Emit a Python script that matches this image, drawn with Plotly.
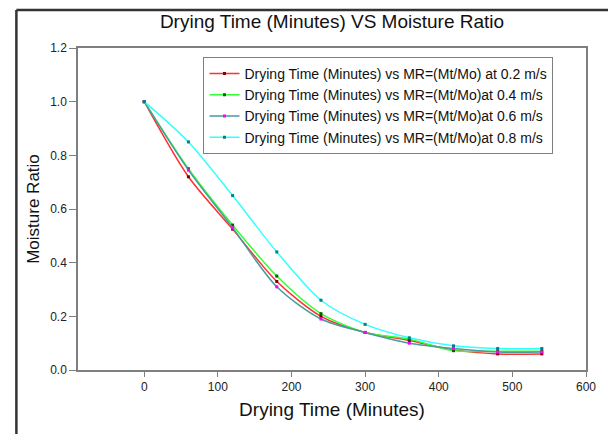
import plotly.graph_objects as go

time_min = [0, 60, 120, 180, 240, 300, 360, 420, 480, 540]
mr_02 = [1.0, 0.72, 0.525, 0.33, 0.20, 0.14, 0.11, 0.075, 0.06, 0.06]
mr_04 = [1.0, 0.75, 0.54, 0.35, 0.21, 0.14, 0.115, 0.072, 0.07, 0.07]
mr_06 = [1.0, 0.745, 0.53, 0.31, 0.19, 0.14, 0.10, 0.08, 0.067, 0.067]
mr_08 = [1.0, 0.85, 0.65, 0.44, 0.26, 0.17, 0.12, 0.09, 0.08, 0.08]

names = [
    "Drying Time (Minutes) vs MR=(Mt/Mo) at 0.2 m/s",
    "Drying Time (Minutes) vs MR=(Mt/Mo)at 0.4 m/s",
    "Drying Time (Minutes) vs MR=(Mt/Mo)at 0.6 m/s",
    "Drying Time (Minutes) vs MR=(Mt/Mo)at 0.8 m/s",
]
series = [mr_02, mr_04, mr_06, mr_08]
line_cols = ["#ff3030", "#33ff33", "#4a9a9e", "#33ffff"]
mark_cols = ["#800000", "#006400", "#ff00ff", "#008080"]

FONT = "Liberation Sans, Arial"

fig = go.Figure()
for name, ys, lc, mc in zip(names, series, line_cols, mark_cols):
    fig.add_trace(go.Scatter(
        x=time_min, y=ys, name=name, mode="lines+markers",
        line=dict(color=lc, width=1.5, shape="spline", smoothing=0.8),
        marker=dict(color=mc, size=3, symbol="square"),
    ))

axis_common = dict(
    showgrid=False, zeroline=False, showline=True, linecolor="#7f7f7f",
    linewidth=1.5, mirror=True, ticks="outside", tickcolor="#7f7f7f",
    tickfont=dict(family=FONT, size=12, color="#222222"),
)

fig.update_xaxes(range=[-90, 600], dtick=100, ticklen=5,
                 title=dict(text="Drying Time (Minutes)", standoff=10,
                            font=dict(family=FONT, size=19, color="#111111")),
                 **axis_common)
fig.update_yaxes(range=[0, 1.2], dtick=0.2, tickformat=".1f", ticklen=7,
                 title=dict(text="Moisture Ratio", standoff=6,
                            font=dict(family=FONT, size=17, color="#111111")),
                 **axis_common)

# outer frame (left and top dark lines)
fig.add_shape(type="line", xref="paper", yref="paper", x0=-0.1213, x1=-0.1213,
              y0=-0.21, y1=1.118, line=dict(color="#333333", width=2.5))
fig.add_shape(type="line", xref="paper", yref="paper", x0=-0.1213, x1=1.05,
              y0=1.118, y1=1.118, line=dict(color="#333333", width=2.5))

fig.update_layout(
    width=608, height=434,
    margin=dict(l=78, r=19, t=48, b=64),
    paper_bgcolor="white", plot_bgcolor="white",
    title=dict(text="Drying Time (Minutes) VS Moisture Ratio", x=0.5, xanchor="center",
               xref="paper", y=0.95, yanchor="middle",
               font=dict(family=FONT, size=19, color="#111111")),
    legend=dict(x=0.247, y=0.972, xanchor="left", yanchor="top",
                bordercolor="#7f7f7f", borderwidth=1, bgcolor="white",
                font=dict(family=FONT, size=14, color="#111111"),
                tracegroupgap=0, itemwidth=30),
    showlegend=True,
)

fig.write_html("out.html", config={"displayModeBar": False},
               post_script="document.body.style.margin='0';")
